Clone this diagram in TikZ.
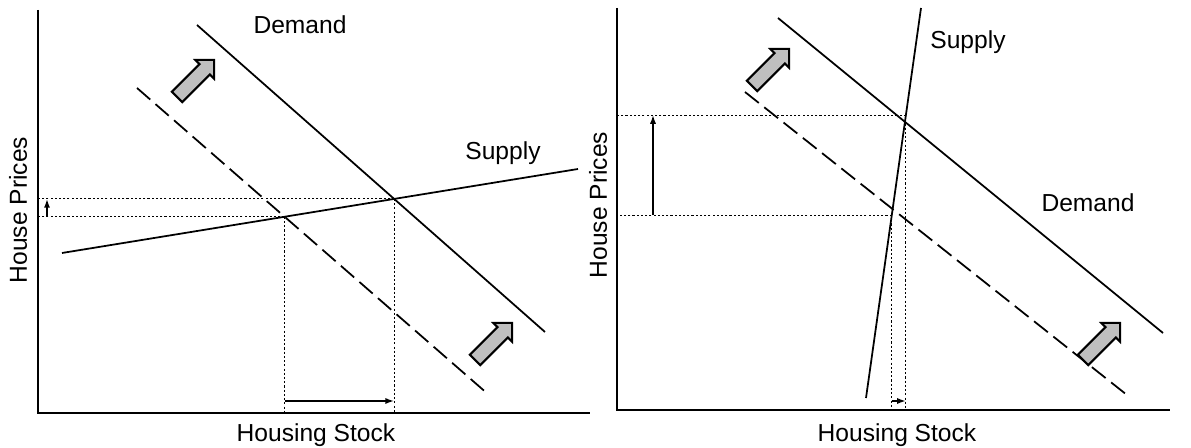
\documentclass[tikz,border=0pt]{standalone}
\usepackage{fontspec}
\setmainfont{Liberation Sans}
\usetikzlibrary{arrows.meta, shapes.arrows, calc}

\begin{document}
\begin{tikzpicture}[
        x=0.02cm, y=-0.02cm,
        axis/.style={
            line width=1.4pt
        },
        curve/.style={
            line width=1pt
        },
        shifted/.style={
            line width=1pt,
            dash pattern=on 10pt off 4pt
        },
        guide/.style={
            dash pattern=on 1.2pt off 1.2pt,
            line width=0.5pt
        },
        move/.style={
            -{Latex[length=5pt, width=3.5pt]},
            line width=0.9pt
        },
        bigarrow/.style={
            single arrow,
            draw,
            line width=1.2pt,
            fill=gray!50,
            minimum height=1.05cm,
            inner xsep=0pt,
            inner ysep=0.125cm,
            single arrow head extend=0.12cm,
            rotate=45
        },
        label/.style={
            font=\fontsize{14}{16}\selectfont
        }
    ]
    \useasboundingbox (0,0) rectangle (1191,448);

    % left panel
    \coordinate (lo) at (38,413);
    \coordinate (ltop) at (38,10);
    \coordinate (lend) at (590,413);
    \coordinate (ld1) at (197,25);
    \coordinate (ld2) at (545,332);
    \coordinate (le1) at (137,88);
    \coordinate (le2) at (489,395);
    \coordinate (ls1) at (62,253);
    \coordinate (ls2) at (578,169);
    \coordinate (lold) at (intersection of le1--le2 and ls1--ls2);
    \coordinate (lnew) at (intersection of ld1--ld2 and ls1--ls2);

    \draw[guide] (lold) -- (lold -| lo);
    \draw[guide] (lnew) -- (lnew -| lo);
    \draw[guide] (lold) -- (lold |- lo);
    \draw[guide] (lnew) -- (lnew |- lo);

    \draw[axis] (ltop) -- (lo) -- (lend);
    \draw[curve] (ld1) -- (ld2);
    \draw[shifted] (le1) -- (le2);
    \draw[curve] (ls1) -- (ls2);

    \coordinate (lpa) at ($(lold -| lo)+(9,0)$);
    \coordinate (lpb) at ($(lnew -| lo)+(9,0)$);
    \draw[move] (lpa) -- (lpb);
    \coordinate (lqa) at ($(lold |- lo)+(0,-12)$);
    \coordinate (lqb) at ($(lnew |- lo)+(0,-12)$);
    \draw[move] (lqa) -- (lqb);

    \node[bigarrow] (lup) at (193,81) {};
    \node[bigarrow] (ldown) at (491,344) {};

    \node[label] (ldem) at (300,25) {Demand};
    \node[label] (lsup) at (503,153) {Supply};
    \node[label, rotate=90] (lyl) at (18,210) {House Prices};
    \node[label] (lxl) at (316,435) {Housing Stock};

    % right panel
    \coordinate (ro) at (617,410);
    \coordinate (rtop) at (617,8);
    \coordinate (rend) at (1170,410);
    \coordinate (rd1) at (778,18);
    \coordinate (rd2) at (1163,333);
    \coordinate (re1) at (745,92);
    \coordinate (re2) at (1127,395);
    \coordinate (rs1) at (866,398);
    \coordinate (rs2) at (921,8);
    \coordinate (rold) at (intersection of rs1--rs2 and 617,215--1170,215);
    \coordinate (rnew) at (intersection of rs1--rs2 and 617,115--1170,115);

    \draw[guide] (rold) -- (rold -| ro);
    \draw[guide] (rnew) -- (rnew -| ro);
    \draw[guide] (rold) -- (rold |- ro);
    \draw[guide] (rnew) -- (rnew |- ro);

    \draw[axis] (rtop) -- (ro) -- (rend);
    \draw[curve] (rd1) -- (rd2);
    \draw[shifted] (re1) -- (re2);
    \draw[curve] (rs1) -- (rs2);

    \coordinate (rpa) at ($(rold -| ro)+(36,0)$);
    \coordinate (rpb) at ($(rnew -| ro)+(36,0)$);
    \draw[move] (rpa) -- (rpb);
    \coordinate (rqa) at ($(rold |- ro)+(0,-9)$);
    \coordinate (rqb) at ($(rnew |- ro)+(0,-9)$);
    \draw[move] (rqa) -- (rqb);

    \node[bigarrow] (rup) at (768,70) {};
    \node[bigarrow] (rdown) at (1099,344) {};

    \node[label] (rsup) at (968,42) {Supply};
    \node[label] (rdem) at (1088,203) {Demand};
    \node[label, rotate=90] (ryl) at (598,205) {House Prices};
    \node[label] (rxl) at (897,435) {Housing Stock};

\end{tikzpicture}
\end{document}
